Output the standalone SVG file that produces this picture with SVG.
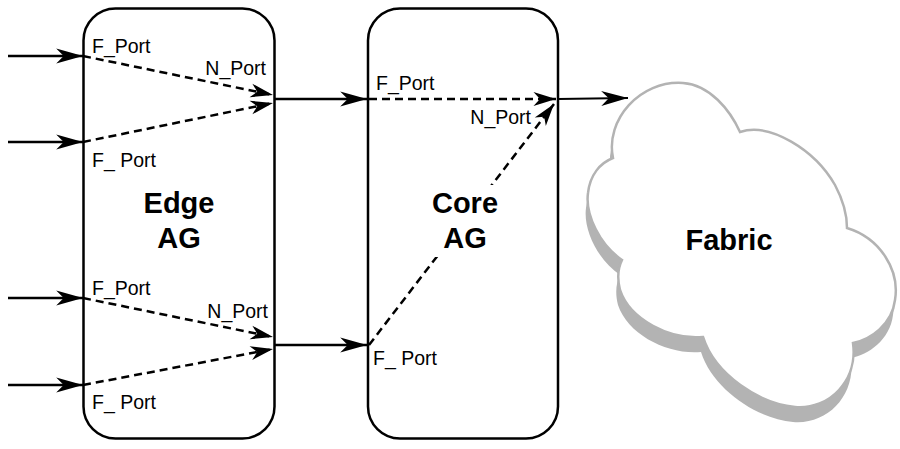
<svg xmlns="http://www.w3.org/2000/svg" width="900" height="449" viewBox="0 0 900 449">
<defs>
<marker id="ah" markerUnits="userSpaceOnUse" markerWidth="30" markerHeight="20" viewBox="-26 -8 28 16" refX="0" refY="0" orient="auto">
<path d="M0,0 L-25,-7 L-18,0 L-25,7 Z" fill="#000"/>
</marker>
<marker id="ahs" markerUnits="userSpaceOnUse" markerWidth="30" markerHeight="20" viewBox="-26 -8 28 16" refX="0" refY="0" orient="auto">
<path d="M0,0 L-21,-6.5 L-15,0 L-21,6.5 Z" fill="#000"/>
</marker>
</defs>
<style>
.box{fill:none;stroke:#000;stroke-width:2.5}
.solid{stroke:#000;stroke-width:2.5;fill:none;marker-end:url(#ah)}
.dash{stroke:#000;stroke-width:2.5;fill:none;stroke-dasharray:8 5;marker-end:url(#ahs)}
.lbl{font-family:"Liberation Sans",Arial,sans-serif;font-size:19.5px;fill:#000}
.ttl{font-family:"Liberation Sans",Arial,sans-serif;font-size:29px;font-weight:bold;fill:#000;text-anchor:middle}
.cloud{fill:#fff;stroke:#b3b3b3;stroke-width:2.5}
.shadow{fill:#b3b3b3}
</style>
<rect width="900" height="449" fill="#fff"/>
<g id="connectors">
<line class="solid" x1="8" y1="56" x2="83" y2="56"/>
<line class="solid" x1="8" y1="142" x2="83" y2="142"/>
<line class="solid" x1="8" y1="298" x2="83" y2="298"/>
<line class="solid" x1="8" y1="385" x2="83" y2="385"/>
<line class="dash" x1="83" y1="56" x2="273" y2="95"/>
<line class="dash" x1="83" y1="142" x2="273" y2="103"/>
<line class="dash" x1="83" y1="298" x2="273" y2="337"/>
<line class="dash" x1="83" y1="385" x2="273" y2="349"/>
<line class="solid" x1="275" y1="99" x2="367" y2="99"/>
<line class="solid" x1="275" y1="345" x2="367" y2="345"/>
<line class="dash" x1="369" y1="99" x2="556" y2="99"/>
<line class="dash" x1="369" y1="345" x2="554" y2="104"/>
<line class="solid" x1="558" y1="99" x2="628" y2="98" style="stroke-width:2.2"/>
</g>
<g id="fabric">
<path class="shadow" transform="translate(-2,15)" d="M613,158 C605,120 640,80 683,83 C710,85 730,110 740,132 C770,122 815,150 835,185 C843,200 847,215 847,228 C880,238 900,270 895,300 C892,325 870,340 853,343 C858,380 830,410 795,407 C760,404 715,375 703,337 C670,340 630,320 620,290 C617,278 618,268 622,260 C600,245 585,215 588,193 C590,175 600,163 613,158 Z"/>
<path class="cloud" d="M613,158 C605,120 640,80 683,83 C710,85 730,110 740,132 C770,122 815,150 835,185 C843,200 847,215 847,228 C880,238 900,270 895,300 C892,325 870,340 853,343 C858,380 830,410 795,407 C760,404 715,375 703,337 C670,340 630,320 620,290 C617,278 618,268 622,260 C600,245 585,215 588,193 C590,175 600,163 613,158 Z"/>
<text class="ttl" x="729" y="250">Fabric</text>
</g>
<g id="edge-ag">
<rect class="box" x="83.5" y="8.5" width="191" height="430" rx="32" ry="32"/>
<text class="ttl" x="179" y="213">Edge</text>
<text class="ttl" x="179" y="248">AG</text>
<text class="lbl" x="92" y="53">F_Port</text>
<text class="lbl" x="266" y="75" text-anchor="end">N_Port</text>
<text class="lbl" x="92" y="167">F_ Port</text>
<text class="lbl" x="92" y="295">F_Port</text>
<text class="lbl" x="268" y="318" text-anchor="end">N_Port</text>
<text class="lbl" x="92" y="409">F_ Port</text>
</g>
<g id="core-ag">
<rect class="box" x="368" y="8.5" width="190" height="430" rx="32" ry="32"/>
<rect x="428" y="185" width="76" height="72" fill="#fff"/>
<text class="ttl" x="465" y="213">Core</text>
<text class="ttl" x="465" y="248">AG</text>
<text class="lbl" x="376" y="90">F_Port</text>
<text class="lbl" x="531" y="124" text-anchor="end">N_Port</text>
<text class="lbl" x="373" y="365">F_ Port</text>
</g>
</svg>
